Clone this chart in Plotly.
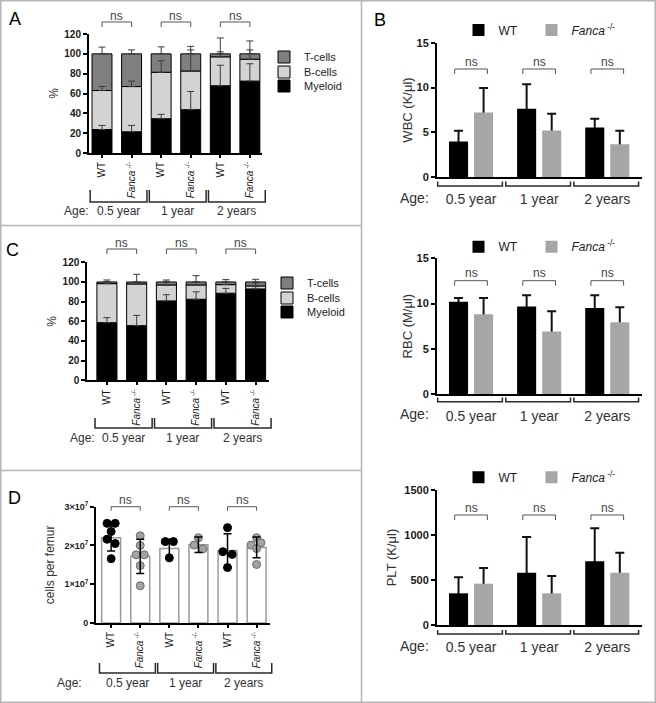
import plotly.graph_objects as go

W, H = 656, 703
FONT = "Liberation Sans, Arial, Helvetica, sans-serif"
INK = "#1a1a1a"
TXT = "#333333"


def px(p):
    return p / W


def py(p):
    return 1 - p / H


# ------------------------------------------------------------------ data
ages = ["0.5 year", "1 year", "2 years"]
genotypes = ["WT", "<i>Fanca</i><sup> -/-</sup>"]
bar_labels = genotypes * 3
lineages = ["Myeloid", "B-cells", "T-cells"]

# A: peripheral blood lineage composition (%), segment heights, bars = WT,Fanca x 3 ages
A_myeloid = [23.7, 21.4, 34.6, 43.7, 67.8, 72.5]
A_bcells = [39.3, 45.6, 46.8, 39.0, 29.2, 22.1]
A_tcells = [37.0, 33.0, 18.6, 17.3, 3.0, 5.4]
A_myeloid_err = [4.1, 6.4, 4.4, 18.3, 20.7, 17.5]
A_bcells_err = [4.0, 5.5, 11.6, 21.3, 5.0, 9.4]
A_tcells_err = [6.8, 4.0, 7.0, 7.5, 16.0, 13.0]

# C: bone marrow lineage composition (%)
C_myeloid = [58.6, 55.6, 80.7, 82.4, 88.5, 92.9]
C_bcells = [39.7, 42.4, 16.3, 14.6, 8.8, 3.1]
C_tcells = [1.7, 2.0, 3.0, 3.0, 2.7, 4.0]
C_myeloid_err = [5.1, 10.4, 6.3, 7.6, 5.0, 2.4]
C_bcells_err = [2.0, 2.0, 3.3, 3.0, 2.7, 3.0]
C_tcells_err = [2.0, 7.8, 2.0, 6.4, 2.4, 2.7]

# B: blood counts (WT vs Fanca-/-) per age
WBC_WT = [4.0, 7.63, 5.56]
WBC_WT_err = [1.19, 2.74, 0.96]
WBC_KO = [7.22, 5.22, 3.67]
WBC_KO_err = [2.74, 1.85, 1.52]
RBC_WT = [10.2, 9.67, 9.52]
RBC_WT_err = [0.40, 1.25, 1.40]
RBC_KO = [8.82, 6.90, 7.93]
RBC_KO_err = [1.78, 2.25, 1.66]
PLT_WT = [352, 581, 707]
PLT_WT_err = [178, 397, 367]
PLT_KO = [459, 352, 581]
PLT_KO_err = [174, 192, 223]

# D: cells per femur (individual mice, mean and SD)
D_mean = [2.20e7, 1.72e7, 1.92e7, 2.02e7, 1.87e7, 1.95e7]
D_sd = [0.34e7, 0.44e7, 0.24e7, 0.20e7, 0.43e7, 0.27e7]
D_WT_mice = [
    [2.57e7, 2.57e7, 2.36e7, 2.16e7, 2.05e7, 1.66e7],
    [2.10e7, 2.10e7, 1.68e7],
    [2.46e7, 1.84e7, 1.77e7, 1.43e7],
]
D_KO_mice = [
    [2.25e7, 2.00e7, 1.76e7, 1.76e7, 1.48e7, 0.96e7],
    [2.20e7, 2.01e7, 1.91e7],
    [2.20e7, 2.01e7, 2.07e7, 1.92e7, 1.51e7],
]
D_WT_jitter = [[-0.14, 0.14, 0.0, -0.14, 0.14, 0.0], [-0.14, 0.14, 0.0], [0.0, -0.16, 0.16, 0.0]]
D_KO_jitter = [[0.0, 0.0, -0.14, 0.14, 0.0, 0.0], [0.0, -0.15, 0.15], [0.0, -0.19, 0.15, 0.0, 0.0]]

# y tick values
pct_ticks = [0, 20, 40, 60, 80, 100, 120]
count_ticks = [0, 5, 10, 15]
plt_ticks = [0, 500, 1000, 1500]
femur_ticks = [0, 1e7, 2e7, 3e7]
femur_ticktext = ["0", "1×10<sup>7</sup>", "2×10<sup>7</sup>", "3×10<sup>7</sup>"]

# ------------------------------------------------------------------ geometry (pixels)
AX = {
    "A": dict(x="x", y="y", xdom=(89, 262), xr=(-0.44, 5.41), ydom=(153, 34), yr=(0, 120)),
    "C": dict(x="x2", y="y2", xdom=(87.3, 269), xr=(-0.66, 5.45), ydom=(380.3, 262.3), yr=(0, 120)),
    "D": dict(x="x3", y="y3", xdom=(96, 270), xr=(-0.52, 5.46), ydom=(623, 506.7), yr=(0, 3e7)),
    "WBC": dict(x="x4", y="y4", xdom=(437, 642), xr=(-0.5, 2.51), ydom=(177.3, 42.7), yr=(0, 15)),
    "RBC": dict(x="x5", y="y5", xdom=(437, 642), xr=(-0.5, 2.51), ydom=(394, 258.3), yr=(0, 15)),
    "PLT": dict(x="x6", y="y6", xdom=(437, 642), xr=(-0.5, 2.51), ydom=(625, 490), yr=(0, 1500)),
}


def xpaper(key, v):
    a = AX[key]
    d0, d1 = a["xdom"]
    r0, r1 = a["xr"]
    return px(d0 + (v - r0) / (r1 - r0) * (d1 - d0))


def bold(labels):
    return [f"<b>{t}</b>" for t in labels]


fig = go.Figure()
lineage_colors = ["#000000", "#d3d3d3", "#7f7f7f"]
layout = {}
leg_common = dict(bgcolor="rgba(0,0,0,0)", borderwidth=0, itemclick=False, itemdoubleclick=False,
                  xanchor="left", yanchor="middle")
leg_counter = [0]


def new_legend(x, y, size):
    leg_counter[0] += 1
    ref = "legend" if leg_counter[0] == 1 else f"legend{leg_counter[0]}"
    layout[ref] = dict(x=px(x), y=py(y), font=dict(family=FONT, size=size, color=INK), **leg_common)
    return ref


def add_stacked(key, segs, errs, leg_x, leg_ys):
    a = AX[key]
    idx = list(range(6))
    base = [0.0] * 6
    tops = []
    for name, vals, col, ly in zip(lineages, segs, lineage_colors, leg_ys):
        fig.add_trace(go.Bar(
            x=idx, y=vals, base=base, width=0.675, name=name,
            marker=dict(color=col, line=dict(color="black", width=1)),
            xaxis=a["x"], yaxis=a["y"], legend=new_legend(leg_x, ly, 11), hoverinfo="skip"))
        base = [b + v for b, v in zip(base, vals)]
        tops.append(base)
    for top, err in zip(tops, errs):
        fig.add_trace(go.Scatter(
            x=idx, y=top, mode="markers",
            marker=dict(size=1, color="rgba(0,0,0,0)"),
            error_y=dict(type="data", symmetric=False, array=err, arrayminus=[0] * 6,
                         color="#3c3c3c", thickness=1, width=3.5),
            xaxis=a["x"], yaxis=a["y"], showlegend=False, hoverinfo="skip"))


# legend rows: T-cells, B-cells, Myeloid from top -> pass y for Myeloid, B, T
add_stacked("A", [A_myeloid, A_bcells, A_tcells], [A_myeloid_err, A_bcells_err, A_tcells_err],
            264, [86, 72, 57])
add_stacked("C", [C_myeloid, C_bcells, C_tcells], [C_myeloid_err, C_bcells_err, C_tcells_err],
            267, [312, 298, 283])


def add_grouped(key, wt, wt_err, ko, ko_err, leg_y):
    a = AX[key]
    series = [(genotypes[0], wt, wt_err, "#000000", -0.324, 458.5),
              (genotypes[1], ko, ko_err, "#a6a6a6", 0.044, 531.5)]
    # error bars first (their lower part is hidden by the bar drawn over them)
    for name, vals, err, col, off, lx in series:
        fig.add_trace(go.Bar(
            x=[0, 1, 2], y=vals, width=0.28, offset=off,
            marker=dict(color="rgba(0,0,0,0)", line=dict(width=0)),
            error_y=dict(type="data", symmetric=False, array=err, arrayminus=vals,
                         color="#111111", thickness=2, width=4.5),
            xaxis=a["x"], yaxis=a["y"], showlegend=False, hoverinfo="skip"))
    for name, vals, err, col, off, lx in series:
        fig.add_trace(go.Bar(
            x=[0, 1, 2], y=vals, width=0.28, offset=off, name=name,
            marker=dict(color=col, line=dict(width=0)),
            xaxis=a["x"], yaxis=a["y"], legend=new_legend(lx, leg_y, 12), hoverinfo="skip"))


add_grouped("WBC", WBC_WT, WBC_WT_err, WBC_KO, WBC_KO_err, 30)
add_grouped("RBC", RBC_WT, RBC_WT_err, RBC_KO, RBC_KO_err, 246.7)
add_grouped("PLT", PLT_WT, PLT_WT_err, PLT_KO, PLT_KO_err, 477.3)

# D panel
aD = AX["D"]
fig.add_trace(go.Bar(
    x=list(range(6)), y=D_mean, width=0.65,
    marker=dict(color="white", line=dict(color="#9a9a9a", width=1.5)),
    xaxis=aD["x"], yaxis=aD["y"], showlegend=False, hoverinfo="skip"))
for mice, jit, gpos, fill, edge in [(D_WT_mice, D_WT_jitter, 0, "#000000", "#000000"),
                                     (D_KO_mice, D_KO_jitter, 1, "#a3a3a3", "#6a6a6a")]:
    xs, ys = [], []
    for g, (vals, js) in enumerate(zip(mice, jit)):
        for v, j in zip(vals, js):
            xs.append(2 * g + gpos + j)
            ys.append(v)
    fig.add_trace(go.Scatter(
        x=xs, y=ys, mode="markers",
        marker=dict(size=8, color=fill, line=dict(color=edge, width=1)),
        xaxis=aD["x"], yaxis=aD["y"], showlegend=False, hoverinfo="skip"))
fig.add_trace(go.Scatter(
    x=list(range(6)), y=D_mean, mode="markers",
    marker=dict(size=1, color="rgba(0,0,0,0)"),
    error_y=dict(type="data", array=D_sd, color="#000000", thickness=1.5, width=4),
    xaxis=aD["x"], yaxis=aD["y"], showlegend=False, hoverinfo="skip"))

# ------------------------------------------------------------------ axes
axis_common = dict(showline=True, linewidth=2, linecolor="black", showgrid=False,
                   zeroline=False, fixedrange=True, automargin=False)


def name_of(ref, letter):
    return letter + "axis" + ref[1:]


for key, a in AX.items():
    xd = [px(a["xdom"][0]), px(a["xdom"][1])]
    if key in ("A", "C", "D"):
        xcfg = dict(domain=xd, range=list(a["xr"]), anchor=a["y"], type="linear",
                    tickmode="array", tickvals=list(range(6)), ticktext=bar_labels,
                    tickangle=-90, ticks="outside", ticklen=3, tickwidth=1.5, tickcolor="black",
                    tickfont=dict(family=FONT, size=10, color=INK), **axis_common)
    else:
        xcfg = dict(domain=xd, range=list(a["xr"]), anchor=a["y"], type="linear",
                    tickmode="array", tickvals=[0, 1, 2], ticktext=ages, ticks="",
                    ticklabelstandoff=8,
                    tickfont=dict(family=FONT, size=14, color=TXT), **axis_common)
    layout[name_of(a["x"], "x")] = xcfg

ycfg_base = dict(ticks="outside", ticklen=4, tickwidth=2, tickcolor="black", tickmode="array",
                 **axis_common)
for ref, key, tv, tt, fs, title, tfs, so in [
        ("yaxis", "A", pct_ticks, [str(v) for v in pct_ticks], 10, "%", 12, 3),
        ("yaxis2", "C", pct_ticks, [str(v) for v in pct_ticks], 10, "%", 12, 3),
        ("yaxis3", "D", femur_ticks, femur_ticktext, 9, "cells per femur", 12, 7),
        ("yaxis4", "WBC", count_ticks, [str(v) for v in count_ticks], 11, "WBC (K/μl)", 13, 1),
        ("yaxis5", "RBC", count_ticks, [str(v) for v in count_ticks], 11, "RBC (M/μl)", 13, 1),
        ("yaxis6", "PLT", plt_ticks, [str(v) for v in plt_ticks], 11, "PLT (K/μl)", 13, 5)]:
    a = AX[key]
    layout[ref] = dict(domain=[py(a["ydom"][0]), py(a["ydom"][1])], range=list(a["yr"]),
                       anchor=a["x"], tickvals=tv, ticktext=bold(tt),
                       tickfont=dict(family=FONT, size=fs, color=INK),
                       title=dict(text=title, font=dict(family=FONT, size=tfs, color=TXT), standoff=so),
                       **ycfg_base)

# ------------------------------------------------------------------ decorations
shapes = []
annotations = []
FRAME = "#b5b5b5"
shapes.append(dict(type="rect", xref="paper", yref="paper", x0=px(0.75), x1=px(655.25),
                   y0=py(702.25), y1=py(0.75), line=dict(color=FRAME, width=1.5)))
shapes.append(dict(type="line", xref="paper", yref="paper", x0=px(361.5), x1=px(361.5),
                   y0=0, y1=1, line=dict(color=FRAME, width=1.5)))
for yy in (225.5, 470.5):
    shapes.append(dict(type="line", xref="paper", yref="paper", x0=0, x1=px(361.5),
                       y0=py(yy), y1=py(yy), line=dict(color=FRAME, width=1.5)))


def path(points):
    return "M " + " L ".join(f"{x:.5f},{y:.5f}" for x, y in points)


def note(text, x, y, size, color, xref="paper", xanchor="center"):
    annotations.append(dict(xref=xref, yref="paper", x=x, y=y, text=text, showarrow=False,
                            xanchor=xanchor, yanchor="middle",
                            font=dict(family=FONT, size=size, color=color)))


def ns_bracket(key, x0, x1, y_text, y_line, y_tick):
    shapes.append(dict(type="path", xref="paper", yref="paper",
                       path=path([(xpaper(key, x0), py(y_tick)), (xpaper(key, x0), py(y_line)),
                                  (xpaper(key, x1), py(y_line)), (xpaper(key, x1), py(y_tick))]),
                       line=dict(color="#555555", width=1)))
    note("ns", (xpaper(key, x0) + xpaper(key, x1)) / 2, py(y_text), 12, "#444444")


def group_bracket(key, x0, x1, y_tick, y_line):
    shapes.append(dict(type="path", xref="paper", yref="paper",
                       path=path([(xpaper(key, x0), py(y_tick)), (xpaper(key, x0), py(y_line)),
                                  (xpaper(key, x1), py(y_line)), (xpaper(key, x1), py(y_tick))]),
                       line=dict(color="#2a2a2a", width=1.5)))


# stacked / dot panels (bar index units)
for key, ns_y, br_y, lab_y, age_x in [("A", (16, 22, 27), (190, 202), 211, 62),
                                      ("C", (243, 249, 254), (418, 428), 438, 68),
                                      ("D", (500, 506.7, 510.7), (663, 673), 683, 55)]:
    for g in range(3):
        ns_bracket(key, 2 * g, 2 * g + 1, *ns_y)
        group_bracket(key, 2 * g - 0.4, 2 * g + 1.52, *br_y)
        note(ages[g], xpaper(key, 2 * g + 0.55), py(lab_y), 12, TXT)
    note("Age:", px(age_x), py(lab_y), 12, TXT, xanchor="left")

# grouped panels (group index units)
for key, ns_y, br_y, age_y in [("WBC", (61.7, 69, 74), (181.5, 186), 198),
                               ("RBC", (273, 280.7, 285.7), (397.5, 401.7), 414),
                               ("PLT", (507.7, 515, 520), (630, 634), 645.7)]:
    for g in range(3):
        ns_bracket(key, g - 0.24, g + 0.24, *ns_y)
        group_bracket(key, g - 0.49, g + 0.46, *br_y)
    note("Age:", px(398), py(age_y), 14, TXT, xanchor="left")

for letter, x, y in [("A", 15, 19), ("B", 380, 20), ("C", 12.5, 250), ("D", 14.5, 497.5)]:
    note(letter, px(x), py(y), 18, "#000000")

fig.update_layout(
    template="none", width=W, height=H, autosize=False,
    margin=dict(l=0, r=0, t=0, b=0),
    paper_bgcolor="white", plot_bgcolor="white",
    barmode="overlay", font=dict(family=FONT, size=12, color=INK),
    shapes=shapes, annotations=annotations, **layout)

fig.write_html("out.html", config={"displayModeBar": False},
               post_script="document.body.style.margin='0';document.body.style.overflow='hidden';")
